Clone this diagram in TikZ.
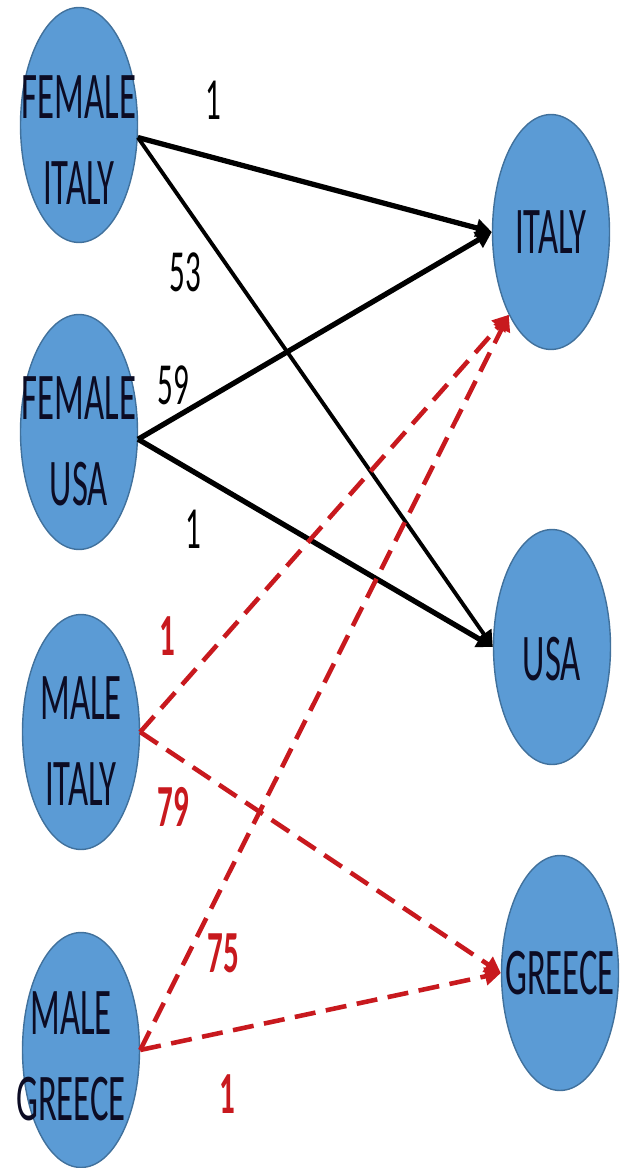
\documentclass[tikz,border=0pt]{standalone}
\usepackage{fontspec}
\setmainfont{Carlito}
\newfontfamily\narrowfont[FakeStretch=0.52]{Carlito}
\usepackage{tikz}
\usetikzlibrary{arrows.meta,shapes.geometric}
\definecolor{nodeblue}{HTML}{5B9BD5}
\definecolor{nodeedge}{HTML}{41719C}
\definecolor{linkred}{RGB}{200,25,30}
\definecolor{inkblk}{HTML}{0C0C24}
\tikzset{
  place/.style = {ellipse, draw=nodeedge, fill=nodeblue, line width=0.8pt,
                  minimum width=2.34cm, minimum height=4.7cm, inner sep=0pt},
  ptxt/.style  = {font=\narrowfont\fontsize{38}{48.8}\selectfont, text=inkblk,
                  align=center, inner sep=0pt},
  ar/.style    = {-{Triangle[length=9pt,width=10pt]}, line width=3pt, black},
  arthin/.style= {ar, line width=2.2pt},
  dar/.style   = {-{Triangle[length=9pt,width=10pt]}, line width=2.6pt, linkred,
                  dash pattern=on 12pt off 6pt},
  wt/.style    = {font=\narrowfont\fontsize{34}{40}\selectfont, inner sep=0pt},
  wtred/.style = {font=\narrowfont\bfseries\fontsize{34}{40}\selectfont,
                  text=linkred, inner sep=0pt},
}

\begin{document}
\begin{tikzpicture}[x=0.02cm, y=-0.02cm]
\useasboundingbox (0,0) rectangle (626,1168);

% senders
\node[place, label={[ptxt, yshift=-0.3cm]center:{FEMALE\\ITALY}}] (FI) at (79,125) {};
\node[place, label={[ptxt, yshift=-0.18cm]center:{FEMALE\\USA}}] (FU) at (79,432) {};
\node[place, label={[ptxt, yshift=-0.18cm]center:{MALE\\ITALY}}] (MI) at (81,732) {};
\node[place, label={[ptxt, xshift=-0.2cm, yshift=-0.12cm]center:{MALE\\GREECE}}] (MG) at (81,1050) {};

% receivers
\node[place, label={[ptxt]center:ITALY}] (IT) at (551,232) {};
\node[place, label={[ptxt, yshift=-0.24cm]center:USA}] (US) at (552,647) {};
\node[place, label={[ptxt]center:GREECE}] (GR) at (560,973) {};

\foreach \a/\b/\s in {FI.-12/IT.west/ar, FI.-12/US.west/arthin,
                      FU.-7/IT.west/ar, FU.-7/US.west/ar}{\draw[\s] (\a) -- (\b);}
\foreach \a/\b in {MI.east/IT.243, MI.east/GR.west,
                   MG.east/IT.243, MG.east/GR.west}{\draw[dar] (\a) -- (\b);}

% counts
\node[wt] (fi-it) at (213,100) {1};
\node[wt] (fi-us) at (185,272) {53};
\node[wt] (fu-it) at (173,385) {59};
\node[wt] (fu-us) at (193,529) {1};
\node[wtred] (mi-it) at (167,636) {1};
\node[wtred] (mi-gr) at (173,807) {79};
\node[wtred] (mg-it) at (223,953) {75};
\node[wtred] (mg-gr) at (227,1094) {1};
\end{tikzpicture}
\end{document}
